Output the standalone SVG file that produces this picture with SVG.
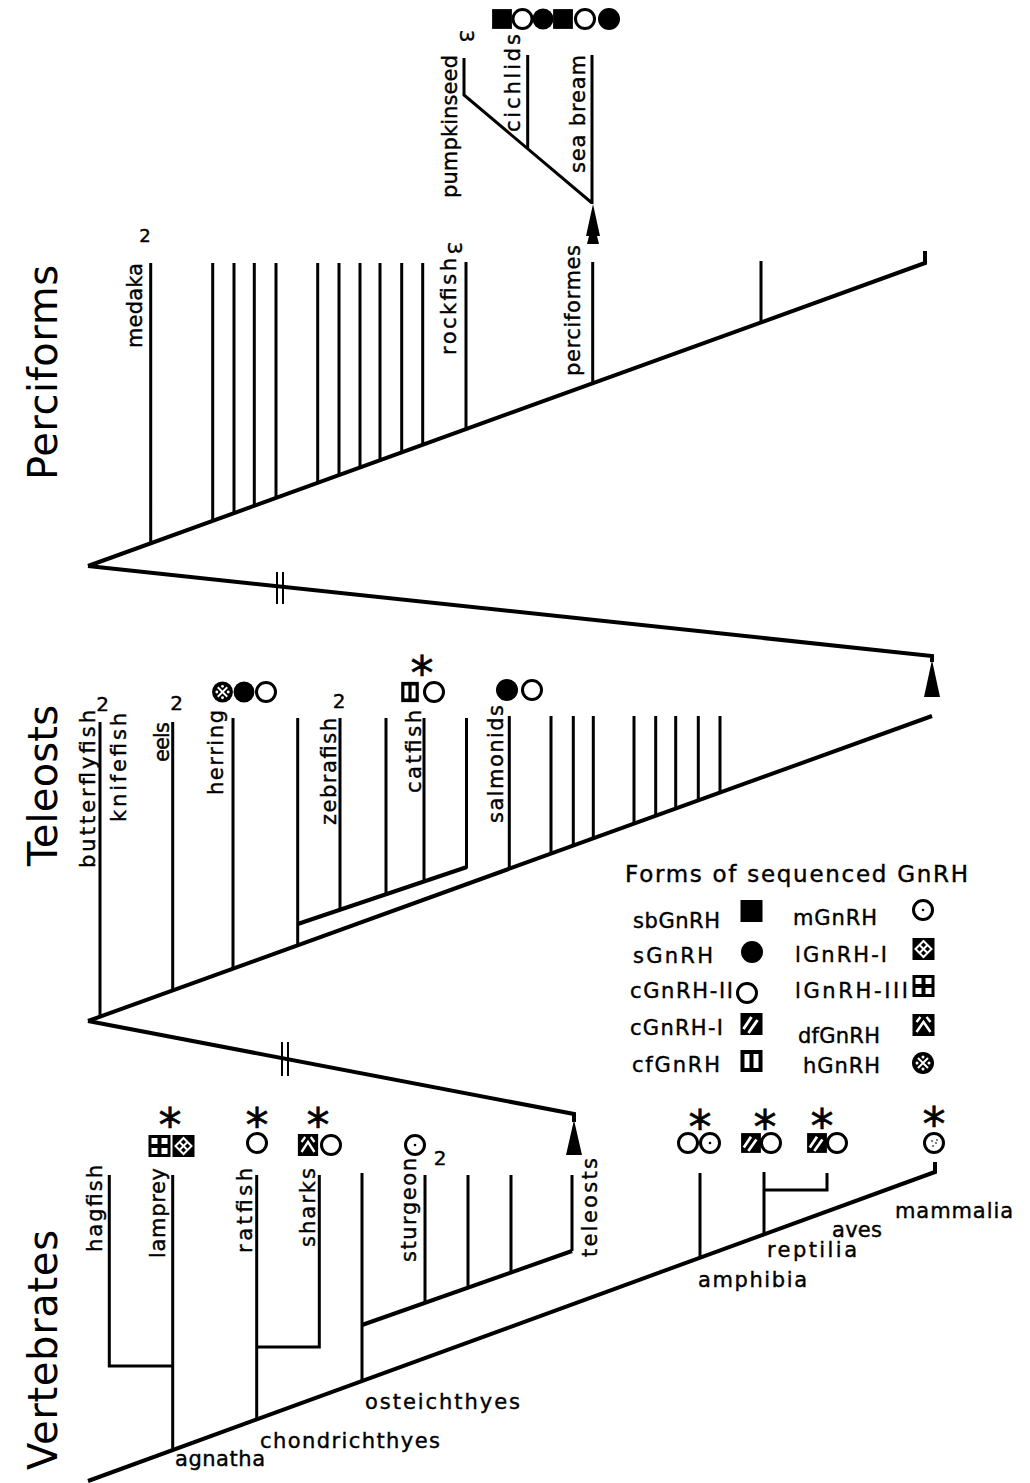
<svg xmlns="http://www.w3.org/2000/svg" width="1030" height="1483" viewBox="0 0 1030 1483">
<style>
.bg{fill:#fff}
.ln{stroke:#000;stroke-width:3;fill:none;stroke-linejoin:miter}
.dg{stroke:#000;stroke-width:4;fill:none;stroke-linejoin:miter}
.bar{stroke:#000;stroke-width:2;fill:none}
.ar{fill:#000}
text{font-family:"DejaVu Sans","Liberation Sans",sans-serif;fill:#000}
.lbl{font-size:21px;stroke:#000;stroke-width:0.4}
.ttl{font-size:40px}
.leg{font-size:21px;stroke:#000;stroke-width:0.4}
.lt{font-size:23px;stroke:#000;stroke-width:0.4}
.num{font-size:20px;text-anchor:middle;stroke:#000;stroke-width:0.4}
.ast{font-size:46px;text-anchor:middle;stroke:#000;stroke-width:0.6}
</style>
<defs>
<g id="sb"><rect x="-11" y="-11" width="22" height="22" fill="#000"/></g>
<g id="s"><circle r="11" fill="#000"/></g>
<g id="c2"><circle r="9.5" fill="#fff" stroke="#000" stroke-width="3"/></g>
<g id="c1"><rect x="-11" y="-11" width="22" height="22" fill="#000"/><path d="M-8,5 L0,-7 M-3,9 L6,-4" stroke="#fff" stroke-width="3"/></g>
<g id="cf"><rect x="-11" y="-11" width="22" height="22" fill="#000"/><rect x="-7" y="-7" width="5" height="14" fill="#fff"/><rect x="2" y="-7" width="5" height="14" fill="#fff"/></g>
<g id="m"><circle r="9.5" fill="#fff" stroke="#000" stroke-width="3"/><circle r="1.3" fill="#000"/></g>
<g id="l1"><rect x="-11" y="-11" width="22" height="22" fill="#000"/><path d="M-8,0 L0,-8 L8,0 L0,8 Z M-4,-4 L4,4 M4,-4 L-4,4" stroke="#fff" stroke-width="2" fill="none"/></g>
<g id="l3"><rect x="-11" y="-11" width="22" height="22" fill="#000"/><rect x="-8" y="-8" width="6" height="6" fill="#fff"/><rect x="2" y="-8" width="6" height="6" fill="#fff"/><rect x="-8" y="2" width="6" height="6" fill="#fff"/><rect x="2" y="2" width="6" height="6" fill="#fff"/></g>
<g id="df"><rect x="-11" y="-11" width="22" height="22" fill="#000"/><path d="M-7,7 L0,-3 L7,7 M-7,-3 L-3,-8 M3,-8 L7,-3" stroke="#fff" stroke-width="2.5" fill="none"/></g>
<g id="h"><circle r="11" fill="#000"/><path d="M-5,-5 L5,5 M5,-5 L-5,5" stroke="#fff" stroke-width="2"/><circle cx="0" cy="-6" r="1.5" fill="#fff"/><circle cx="0" cy="6" r="1.5" fill="#fff"/><circle cx="-6" cy="0" r="1.5" fill="#fff"/><circle cx="6" cy="0" r="1.5" fill="#fff"/></g>
<g id="mm"><circle r="9.5" fill="#fff" stroke="#000" stroke-width="3"/><circle cx="-2" cy="-2" r="1" fill="#555"/><circle cx="2" cy="0" r="1" fill="#555"/><circle cx="-1" cy="3" r="1" fill="#555"/><circle cx="3" cy="-3" r="1" fill="#555"/></g>
</defs>
<rect class="bg" x="0" y="0" width="1030" height="1483"/>

<g id="connectors">
<!-- Perciforms -->
<path class="dg" d="M88,566 L925,263 L925,251"/>
<path class="ln" d="M150.7,263 V543.3 M212.7,263 V520.9 M234,263 V513.1 M254.3,263 V505.8 M276,263 V497.9 M317.7,263 V482.9 M339,263 V475.1 M360,263 V467.5 M380,263 V460.3 M401.7,263 V452.4 M422.7,263 V444.8 M466,262 V429.2 M592.7,262 V383.3 M761,261 V322.4"/>
<path class="ln" d="M592,55 V204 M464,58 V95 L592,203 M527.7,55 V149"/>
<polygon class="ar" points="593,204 600,236 597,236 599,244 587,244 589,236 586,236"/>
<!-- perciforms to teleosts -->
<path class="dg" d="M88,566 L932,656 L932,662"/>
<polygon class="ar" points="932,660 940,697 924,697"/>
<path class="bar" d="M277,572 V604 M283,572 V604"/>
<!-- Teleosts -->
<path class="dg" d="M88,1021 L932,716"/>
<path class="ln" d="M100,722 V1017 M172.7,722 V990.4 M233,718 V968.6 M297.7,718 V945.2"/>
<path class="dg" d="M297.7,924 L467,867"/>
<path class="ln" d="M340,718 V910 M386,718 V895 M424,718 V882 M466.5,718 V868"/>
<path class="ln" d="M509.3,716 V868.8 M551,716 V853.7 M573.3,716 V845.6 M593.3,716 V838.4 M634,716 V823.7 M655.7,716 V815.9 M675.7,716 V808.6 M698.3,716 V800.5 M720,716 V792.6"/>
<!-- teleosts to vertebrates -->
<path class="dg" d="M88,1021 L574,1114 L574,1122"/>
<polygon class="ar" points="574,1120 582,1155 566,1155"/>
<path class="bar" d="M282,1042 V1076 M288,1042 V1076"/>
<!-- Vertebrates -->
<path class="dg" d="M88,1481 L935,1172 L935,1162"/>
<path class="ln" d="M109.3,1175 V1366 H172.7 M172.7,1175 V1450 M256.7,1175 V1419.5 M319.3,1175 V1347 H256.7 M362,1173 V1381"/>
<path class="dg" d="M362,1325 L572,1251"/>
<path class="ln" d="M425,1175 V1302.8 M468,1175 V1287.6 M511,1175 V1272.5 M572,1175 V1251"/>
<path class="ln" d="M700,1173 V1257.7 M764,1172 V1234.4 M764,1190 H827 V1173"/>
</g>

<g id="titles">
<text class="ttl" transform="translate(57,480) rotate(-90)" textLength="215">Perciforms</text>
<text class="ttl" transform="translate(57,866) rotate(-90)" textLength="161">Teleosts</text>
<text class="ttl" transform="translate(57,1470) rotate(-90)" textLength="240">Vertebrates</text>
</g>

<!-- Perciforms nodes -->
<g id="node-medaka">
<text class="lbl" transform="translate(142,348) rotate(-90)" textLength="85">medaka</text>
<text class="num" x="145" y="242" style="font-size:18px">2</text>
</g>
<g id="node-rockfish">
<text class="lbl" transform="translate(456,355) rotate(-90)" textLength="97">rockfish</text>
<text class="num" transform="translate(455,248) rotate(90)" y="7">3</text>
</g>
<g id="node-perciformes">
<text class="lbl" transform="translate(580,376) rotate(-90)" textLength="131">perciformes</text>
</g>
<g id="node-pumpkinseed">
<text class="lbl" transform="translate(457,198) rotate(-90)" textLength="143">pumpkinseed</text>
<text class="num" transform="translate(467,36) rotate(90)" y="7">3</text>
</g>
<g id="node-cichlids">
<text class="lbl" transform="translate(520,132) rotate(-90)" textLength="98">cichlids</text>
<use href="#sb" transform="translate(502,19) scale(0.9)"/>
<use href="#c2" transform="translate(522.5,19)"/>
<use href="#s" transform="translate(543,19) scale(0.95)"/>
</g>
<g id="node-seabream">
<text class="lbl" transform="translate(585,173) rotate(-90)" textLength="118">sea bream</text>
<use href="#sb" transform="translate(563,19) scale(0.9)"/>
<use href="#c2" transform="translate(585,19)"/>
<use href="#s" transform="translate(609,19)"/>
</g>

<!-- Teleost nodes -->
<g id="node-butterflyfish">
<text class="lbl" transform="translate(95,868) rotate(-90)" textLength="158">butterflyfish</text>
<text class="num" x="102.5" y="711">2</text>
</g>
<g id="node-knifefish">
<text class="lbl" transform="translate(126,822) rotate(-90)" textLength="109">knifefish</text>
</g>
<g id="node-eels">
<text class="lbl" transform="translate(169,762) rotate(-90)" textLength="40">eels</text>
<text class="num" x="176.5" y="710">2</text>
</g>
<g id="node-herring">
<text class="lbl" transform="translate(223,795) rotate(-90)" textLength="85">herring</text>
<use href="#h" transform="translate(222.5,692) scale(0.95)"/>
<use href="#s" transform="translate(244,692) scale(0.95)"/>
<use href="#c2" transform="translate(266,692)"/>
</g>
<g id="node-zebrafish">
<text class="lbl" transform="translate(336,825) rotate(-90)" textLength="107">zebrafish</text>
<text class="num" x="339" y="708">2</text>
</g>
<g id="node-catfish">
<text class="lbl" transform="translate(421,793) rotate(-90)" textLength="83">catfish</text>
<use href="#cf" transform="translate(410,692) scale(0.8,0.92)"/>
<use href="#c2" transform="translate(434,692)"/>
<text class="ast" x="422" y="689">*</text>
</g>
<g id="node-salmonids">
<text class="lbl" transform="translate(503,823) rotate(-90)" textLength="118">salmonids</text>
<use href="#s" transform="translate(507,690)"/>
<use href="#c2" transform="translate(532,690)"/>
</g>

<!-- Legend -->
<g id="legend">
<text class="lt" x="625" y="882" textLength="343">Forms of sequenced GnRH</text>
<text class="leg" x="633" y="928" textLength="87">sbGnRH</text>
<use href="#sb" transform="translate(751.5,911)"/>
<text class="leg" x="633" y="963" textLength="80">sGnRH</text>
<use href="#s" transform="translate(752,952)"/>
<text class="leg" x="630" y="998" textLength="103">cGnRH-II</text>
<use href="#c2" transform="translate(747,993)"/>
<text class="leg" x="630" y="1035" textLength="93">cGnRH-I</text>
<use href="#c1" transform="translate(751.5,1024)"/>
<text class="leg" x="632" y="1072" textLength="88">cfGnRH</text>
<use href="#cf" transform="translate(751.5,1061)"/>
<text class="leg" x="793" y="925" textLength="84">mGnRH</text>
<use href="#m" transform="translate(923,910)"/>
<text class="leg" x="795" y="962" textLength="92">lGnRH-I</text>
<use href="#l1" transform="translate(923.5,949)"/>
<text class="leg" x="795" y="998" textLength="113">lGnRH-III</text>
<use href="#l3" transform="translate(923.5,986)"/>
<text class="leg" x="798" y="1043" textLength="82">dfGnRH</text>
<use href="#df" transform="translate(923.5,1025)"/>
<text class="leg" x="803" y="1073" textLength="77">hGnRH</text>
<use href="#h" transform="translate(923,1063)"/>
</g>

<!-- Vertebrate nodes -->
<g id="node-hagfish">
<text class="lbl" transform="translate(102,1252) rotate(-90)" textLength="87">hagfish</text>
</g>
<g id="node-lamprey">
<text class="lbl" transform="translate(165,1258) rotate(-90)" textLength="90">lamprey</text>
<use href="#l3" transform="translate(159.5,1146)"/>
<use href="#l1" transform="translate(183.5,1146)"/>
<text class="ast" x="170" y="1141">*</text>
</g>
<g id="node-ratfish">
<text class="lbl" transform="translate(252,1253) rotate(-90)" textLength="85">ratfish</text>
<use href="#c2" transform="translate(257,1143)"/>
<text class="ast" x="257" y="1141">*</text>
</g>
<g id="node-sharks">
<text class="lbl" transform="translate(315,1247) rotate(-90)" textLength="79">sharks</text>
<use href="#df" transform="translate(308,1145) scale(0.92,1)"/>
<use href="#c2" transform="translate(331,1145)"/>
<text class="ast" x="318" y="1141">*</text>
</g>
<g id="node-sturgeon">
<text class="lbl" transform="translate(416,1262) rotate(-90)" textLength="104">sturgeon</text>
<use href="#m" transform="translate(415,1145)"/>
<text class="num" x="440" y="1165">2</text>
</g>
<g id="node-teleosts">
<text class="lbl" transform="translate(597,1257) rotate(-90)" textLength="99">teleosts</text>
</g>
<g id="node-amphibia">
<text class="lbl" x="698" y="1287" textLength="109">amphibia</text>
<use href="#c2" transform="translate(688,1143)"/>
<use href="#m" transform="translate(710,1143)"/>
<text class="ast" x="700" y="1143">*</text>
</g>
<g id="node-reptilia">
<text class="lbl" x="767" y="1257" textLength="90">reptilia</text>
<use href="#c1" transform="translate(751,1143) scale(0.9)"/>
<use href="#c2" transform="translate(771,1143)"/>
<text class="ast" x="765" y="1143">*</text>
</g>
<g id="node-aves">
<text class="lbl" x="832" y="1237" textLength="50">aves</text>
<use href="#c1" transform="translate(817,1143) scale(0.9)"/>
<use href="#c2" transform="translate(837,1143)"/>
<text class="ast" x="822" y="1142">*</text>
</g>
<g id="node-mammalia">
<text class="lbl" x="895" y="1218" textLength="118">mammalia</text>
<use href="#mm" transform="translate(934,1143)"/>
<text class="ast" x="934" y="1140">*</text>
</g>
<g id="node-agnatha">
<text class="lbl" x="175" y="1466" textLength="90">agnatha</text>
</g>
<g id="node-chondrichthyes">
<text class="lbl" x="260" y="1448" textLength="180">chondrichthyes</text>
</g>
<g id="node-osteichthyes">
<text class="lbl" x="365" y="1409" textLength="155">osteichthyes</text>
</g>
</svg>
